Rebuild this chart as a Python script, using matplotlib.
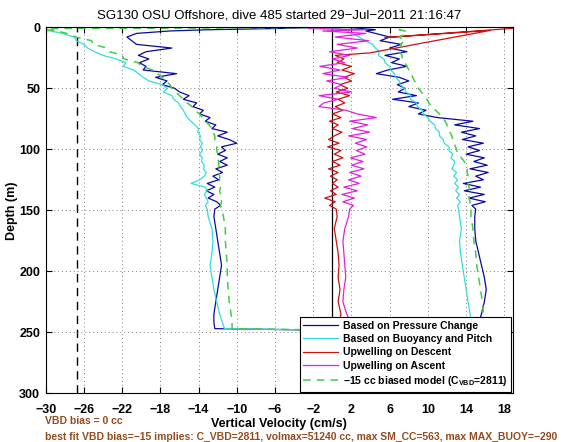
import matplotlib
matplotlib.use("Agg")
import matplotlib.pyplot as plt
import numpy as np

plt.rcParams['font.family'] = ['Liberation Sans', 'DejaVu Sans']
plt.rcParams['mathtext.fontset'] = 'custom'
plt.rcParams['mathtext.rm'] = 'Liberation Sans'
plt.rcParams['mathtext.bf'] = 'Liberation Sans:bold'

# ---------------- data ----------------
title = "SG130 OSU Offshore, dive 485 started 29\u2212Jul\u22122011 21:16:47"
xticks = [-30, -26, -22, -18, -14, -10, -6, -2, 2, 6, 10, 14, 18]
yticks = [0, 50, 100, 150, 200, 250, 300]
w_stall_line = -26.7   # dashed black reference velocity

depth_top = [0, 1, 2, 3]
depth_main = [5, 8, 11, 14, 17, 20, 23, 26, 29, 32,
              35, 38, 41, 44, 47, 50, 53, 56, 59, 62,
              65, 68, 71, 74, 77, 80, 83, 86, 89, 92,
              95, 98, 101, 104, 107, 110, 113, 116, 119, 122,
              125, 128, 131, 134, 137, 140, 143, 146, 149,
              155, 165, 175, 185, 195, 205, 215, 225, 235, 242, 247]
depth_bottom_up = 250

blue_dn = [-1, -6, -13, -17,
           -20.5, -21.5, -21.0, -20.5, -16.8, -19.5, -20.3, -19.2, -20.2, -19.5,
           -19.8, -16.3, -18.5, -17.3, -17.8, -16.5, -16.0, -15.0, -15.6, -14.2,
           -14.6, -13.5, -13.9, -12.8, -13.3, -12.2, -12.6, -11.0, -12.0, -10.8,
           -10.0, -11.6, -11.2, -12.0, -11.0, -11.8, -11.0, -12.2, -11.5, -12.5,
           -11.9, -13.1, -12.3, -13.2, -12.4, -13.0, -12.1, -11.7, -12.3,
           -12.4, -12.2, -12.0, -11.8, -11.6, -11.8, -12.0, -12.2, -12.4, -12.4, -12.3]
blue_up = [1.5, 3.0, 4.5, 3.5,
           4.5, 6.0, 5.0, 7.2, 6.0, 7.8, 5.5, 7.0, 6.2, 7.8,
           5.8, 4.6, 7.0, 8.0, 6.8, 7.6, 6.9, 8.8, 6.3, 9.0,
           8.0, 9.8, 9.0, 11.0, 14.7, 12.8, 15.4, 13.5, 15.0, 13.6,
           15.8, 14.2, 15.4, 14.0, 15.9, 14.8, 16.2, 14.4, 16.3, 15.0,
           15.8, 13.7, 15.5, 13.8, 15.9, 14.3, 16.0, 14.6, 15.0,
           14.9, 14.9, 15.0, 15.3, 15.6, 15.9, 16.1, 15.9, 15.6, 15.3, 15.0]

cyan_dn = [-33, -32, -31, -29.5,
           -28.3, -27.0, -26.8, -26.0, -25.6, -24.9, -24.0, -22.6, -21.6, -21.9,
           -20.8, -20.3, -19.8, -19.2, -17.8, -17.3, -17.7, -16.8, -16.6, -16.1,
           -15.9, -15.6, -15.4, -15.2, -14.8, -14.4, -14.0, -14.1, -13.8, -13.9,
           -13.6, -13.8, -13.6, -13.9, -13.6, -13.7, -13.4, -13.5, -13.2, -13.4,
           -13.9, -14.8, -13.3, -13.1, -13.4, -13.2, -13.0, -13.3, -13.1,
           -13.0, -12.6, -12.5, -12.6, -12.8, -12.6, -12.4, -12.1, -11.8, -11.5, -11.3]
cyan_up = [-1.0, 0.5, 1.0, 1.5,
           2.0, 2.8, 3.4, 4.2, 4.5, 4.9, 4.8, 5.4, 5.5, 6.0,
           6.1, 6.5, 6.6, 7.0, 7.1, 7.5, 7.7, 8.2, 8.2, 8.8,
           8.9, 9.4, 9.5, 10.0, 10.2, 10.7, 10.8, 11.2, 11.2, 11.6,
           11.7, 12.2, 12.2, 12.6, 12.4, 12.8, 12.7, 12.5, 13.0, 12.7,
           13.1, 12.8, 13.2, 12.9, 13.3, 13.0, 13.4, 13.1, 13.2,
           13.3, 13.5, 13.3, 13.4, 13.6, 13.8, 14.0, 14.2, 14.4, 14.6, 14.8]

model_dn = [7.3, -29.0, -30.0, -28.8,
            -27.8, -26.8, -25.2, -25.0, -23.6, -23.3, -22.0, -21.8, -20.3, -20.0,
            -18.8, -18.3, -17.8, -17.4, -17.0, -16.8, -16.4, -16.0, -15.6, -15.2,
            -14.7, -14.4, -13.9, -13.6, -13.3, -12.9, -12.6, -12.5, -12.3, -12.3,
            -12.2, -12.1, -12.1, -12.0, -12.0, -11.9, -11.9, -11.8, -11.9, -11.8,
            -11.8, -11.8, -11.7, -11.8, -11.7, -11.7, -11.6, -11.7, -11.6,
            -11.4, -11.2, -11.2, -11.1, -11.0, -11.0, -10.9, -10.8, -10.6, -10.5, -10.5]
model_up = [7.3, 7.5, 7.0, 7.6,
            7.8, 7.0, 7.6, 7.1, 7.4, 7.0, 7.3, 7.3, 7.6, 7.8,
            8.0, 8.3, 8.4, 8.6, 8.8, 9.0, 9.3, 9.6, 9.9, 10.1,
            10.4, 10.8, 11.2, 11.5, 11.8, 12.0, 12.1, 12.3, 12.5, 12.6,
            12.7, 12.9, 13.0, 13.2, 13.5, 13.8, 14.0, 14.1, 14.1, 14.2,
            14.2, 14.2, 14.3, 14.3, 14.3, 14.3, 14.4, 14.4, 14.5,
            14.5, 14.7, 14.8, 15.0, 15.1, 15.3, 15.5, 15.7, 15.8, 15.7, 15.6]

red_depth_top = [0.5, 8.4, 2.6, 21]
red_top = [19.5, 5.5, 16.5, 3.9]
red_main = [0.3, 1.2, 0.5, 2.0, 1.0, 2.3, 1.2, 2.0, 0.8, 1.6,
            0.4, 1.8, 0.6, 1.3, 0.3, 1.1, 0.0, 0.9, -0.3, 0.6,
            0.0, 1.0, 0.2, -0.4, 0.7, -0.5, 0.9, 0.2, 1.1, 0.0,
            0.8, -0.4, 0.6, -0.2, 0.5, 0.0, 0.6, -0.2, 0.4, -0.8,
            0.3, -0.3, 0.4,
            0.5, 0.2, 0.4, 0.6, 0.7, 0.6, 0.8, 0.6, 0.9, 0.7, 0.6]

magenta_up = [1.0, -2.5, 3.5, -1.0,
              3.5, 0.3, 3.8, 0.5, 2.6, -0.3, 1.8, 0.0, 1.3, -1.3,
              0.8, -1.0, 1.6, -0.6, 1.0, 0.2, 2.0, -1.4, 0.6, -0.9,
              -1.4, 1.4, 2.6, 4.6, 1.8, 3.7, 2.1, 3.9, 1.7, 3.6,
              2.4, 3.6, 2.5, 3.4, 1.9, 3.2, 2.0, 3.3, 1.8, 3.0,
              1.7, 2.8, 1.2, 2.6, 1.0, 2.3, 1.1, 2.2, 1.8,
              1.7, 1.3, 1.1, 1.2, 1.3, 1.4, 1.2, 1.1, 1.5, 1.9, 2.0]

labels = ["Based on Pressure Change", "Based on Buoyancy and Pitch",
          "Upwelling on Descent", "Upwelling on Ascent",
          "\u221215 cc biased model (C$_{\\mathbf{VBD}}$=2811)"]
note1 = "VBD bias = 0 cc"
note2 = ("best fit VBD bias=\u221215 implies: C_VBD=2811, volmax=51240 cc, "
         "max SM_CC=563, max MAX_BUOY=\u2212290")

# ---------------- plot ----------------
depth_dn = depth_top + depth_main
depth_up = depth_top + depth_main[:-1] + [depth_bottom_up]
red_depth = red_depth_top + depth_main[6:]

fig = plt.figure(figsize=(5.66, 4.42), dpi=100)
W, H = 566, 442
L, R, T, B = 45.7, 513, 27.3, 393.3
ax = fig.add_axes([L / W, 1 - B / H, (R - L) / W, (B - T) / H])

ax.axvline(w_stall_line, color='k', lw=1.0, ls=(0, (6, 4)), zorder=1)
ax.axvline(0, color='k', lw=0.9, zorder=1)

lw = 0.9
c_blue, c_cyan, c_red, c_mag, c_green = '#0a0aa0', '#33dede', '#cc1111', '#dd22dd', '#44cc44'
h1, = ax.plot(blue_dn + blue_up[::-1], depth_dn + depth_up[::-1], color=c_blue, lw=lw)
h2, = ax.plot(cyan_dn + cyan_up[::-1], depth_dn + depth_up[::-1], color=c_cyan, lw=lw)
h3, = ax.plot(red_top + red_main, red_depth, color=c_red, lw=lw)
h4, = ax.plot(magenta_up, depth_up, color=c_mag, lw=lw)
h5, = ax.plot(model_dn + model_up[::-1], depth_dn + depth_up[::-1], color=c_green, lw=1.1,
              ls=(0, (5, 4)))

ax.set_xlim(-30, 18.9)
ax.set_ylim(300, 0)
ax.set_xticks(xticks)
ax.set_yticks(yticks)
ax.grid(True, ls=(0, (1, 3)), color='0.5', lw=0.7)
ax.tick_params(direction='in', top=True, right=True, length=4, width=0.8,
               labelsize=9)
ax.tick_params(axis='x', pad=8)
ax.tick_params(axis='y', pad=4)
for lab in ax.get_xticklabels() + ax.get_yticklabels():
    lab.set_fontweight('bold')
for sp in ax.spines.values():
    sp.set_linewidth(0.8)
    sp.set_color('k')

ax.set_title(title, fontsize=9.5, pad=6)
ax.set_xlabel("Vertical Velocity (cm/s)", fontsize=9, fontweight='bold', labelpad=1)
ax.set_ylabel("Depth (m)", fontsize=9, fontweight='bold', labelpad=1)

leg = ax.legend([h1, h2, h3, h4, h5], labels, loc='lower right',
                prop={'size': 7.5, 'weight': 'bold'}, frameon=True, fancybox=False,
                edgecolor='k', framealpha=1, borderaxespad=0.15, borderpad=0.35,
                labelspacing=0.32, handlelength=3.3, handletextpad=0.5)
leg.get_frame().set_linewidth(0.8)

brown = '#964B1E'
fig.text(45 / W, 1 - 421 / H, note1, color=brown, fontsize=7.5, fontweight='bold',
         ha='left', va='center')
fig.text(45 / W, 1 - 437 / H, note2, color=brown, fontsize=7.5, fontweight='bold',
         ha='left', va='center')

fig.savefig("out.png", dpi=100)
